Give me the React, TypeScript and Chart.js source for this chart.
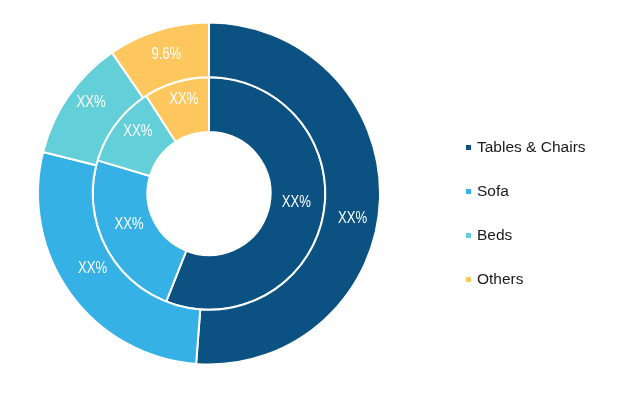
import React, { useEffect, useRef } from "react";
import { Chart, registerables } from "chart.js";

Chart.register(...registerables);

const categories = ["Tables & Chairs", "Sofa", "Beds", "Others"];
const outerValues = [51.2, 27.7, 11.5, 9.6];
const innerValues = [56.0, 23.6, 11.3, 9.1];
const outerLabels = ["XX%", "XX%", "XX%", "9.6%"];
const innerLabels = ["XX%", "XX%", "XX%", "XX%"];
const colors = ["#0B5282", "#35B1E5", "#63D0D9", "#FDC75D"];

// label styling (vertical nudges in px relative to the arc centroid)
const LABEL_FONT = "16px 'Liberation Sans', Arial, sans-serif";
const LABEL_SQUEEZE = 0.82;
const outerLabelNudge = [20, -9, -9, -2];
const innerLabelNudge = [-8, -8, -9, -9];

const arcLabels = {
  id: "arcLabels",
  afterDatasetsDraw(chart: any) {
    const ctx = chart.ctx;
    const texts = [outerLabels, innerLabels];
    const nudges = [outerLabelNudge, innerLabelNudge];
    chart.data.datasets.forEach((_: any, di: number) => {
      const meta = chart.getDatasetMeta(di);
      meta.data.forEach((el: any, i: number) => {
        const p = el.tooltipPosition();
        ctx.save();
        ctx.font = LABEL_FONT;
        ctx.fillStyle = "#ffffff";
        ctx.textAlign = "center";
        ctx.textBaseline = "middle";
        ctx.translate(p.x, p.y + nudges[di][i]);
        ctx.scale(LABEL_SQUEEZE, 1);
        ctx.fillText(texts[di][i], 0, 0);
        ctx.restore();
      });
    });
  },
};

export default function App() {
  const ref = useRef<HTMLCanvasElement | null>(null);
  useEffect(() => {
    if (!ref.current) return;
    const chart = new Chart(ref.current, {
      type: "doughnut",
      data: {
        labels: categories,
        datasets: [
          {
            data: outerValues,
            backgroundColor: colors,
            borderColor: "#ffffff",
            borderWidth: 2,
          },
          {
            data: innerValues,
            backgroundColor: colors,
            borderColor: "#ffffff",
            borderWidth: 2,
          },
        ],
      },
      options: {
        responsive: false,
        animation: false,
        cutout: "36%",
        layout: { padding: { left: 37, right: 237, top: 21, bottom: 28 } },
        plugins: {
          legend: { display: false },
          tooltip: { enabled: false },
        },
      },
      plugins: [arcLabels],
    });
    return () => chart.destroy();
  }, []);

  return (
    <div style={{ position: "fixed", left: 0, top: 0, width: 618, height: 394, background: "#fff" }}>
      <canvas ref={ref} width={618} height={394} style={{ position: "absolute", left: 0, top: 0 }} />
      <div style={{ position: "absolute", left: 466, top: 125, fontFamily: "'Liberation Sans', Arial, sans-serif", fontSize: 15.5, color: "#1a1a1a" }}>
        {categories.map((c, i) => (
          <div key={c} style={{ height: 44, display: "flex", alignItems: "center" }}>
            <span style={{ width: 5, height: 5, background: colors[i], display: "inline-block", marginRight: 6 }} />
            <span>{c}</span>
          </div>
        ))}
      </div>
    </div>
  );
}
